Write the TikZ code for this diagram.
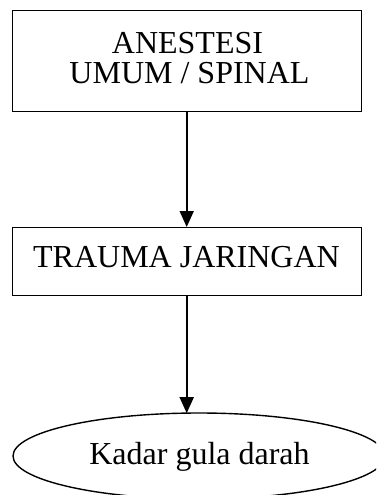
\documentclass[tikz,border=0pt]{standalone}
\usepackage{fontspec}
\setmainfont{Liberation Serif}
\usetikzlibrary{arrows.meta,shapes.geometric}
\begin{document}
\begin{tikzpicture}[x=1pt,y=-1pt,
  stepbox/.style={draw,line width=1.4pt,rectangle,inner sep=0pt},
  endoval/.style={draw,line width=1.4pt,ellipse,inner sep=0pt},
  lbl/.style={inner sep=0pt,anchor=base,font=\fontsize{32}{30}\selectfont},
  flow/.style={line width=1.8pt,-{Triangle[width=14pt,length=16pt]}}]
  \useasboundingbox (0,0) rectangle (376,495);
  \clip (0,0) rectangle (376,495);
  % first step
  \node[stepbox,minimum width=349.4pt,minimum height=101pt] (anes) at (187,61.2) {};
  \node[lbl] (anesA) at (187.5,53.3) {ANESTESI};
  \node[lbl] (anesB) at (189.5,83.3) {UMUM / SPINAL};
  % second step
  \node[stepbox,minimum width=349.4pt,minimum height=68pt] (trauma) at (187,261.7) {};
  \node[lbl] (traumaT) at (186.5,267.7) {TRAUMA JARINGAN};
  % outcome
  \node[endoval,minimum width=372pt,minimum height=86pt] (gula) at (199,456) {};
  \node[lbl] (gulaT) at (199.5,464) {Kadar gula darah};
  % connectors
  \draw[flow] (anes.south -| 186.7,0) -- (trauma.north -| 186.7,0);
  \draw[flow] (trauma.south -| 186.7,0) -- (186.7,413.2);
\end{tikzpicture}
\end{document}
